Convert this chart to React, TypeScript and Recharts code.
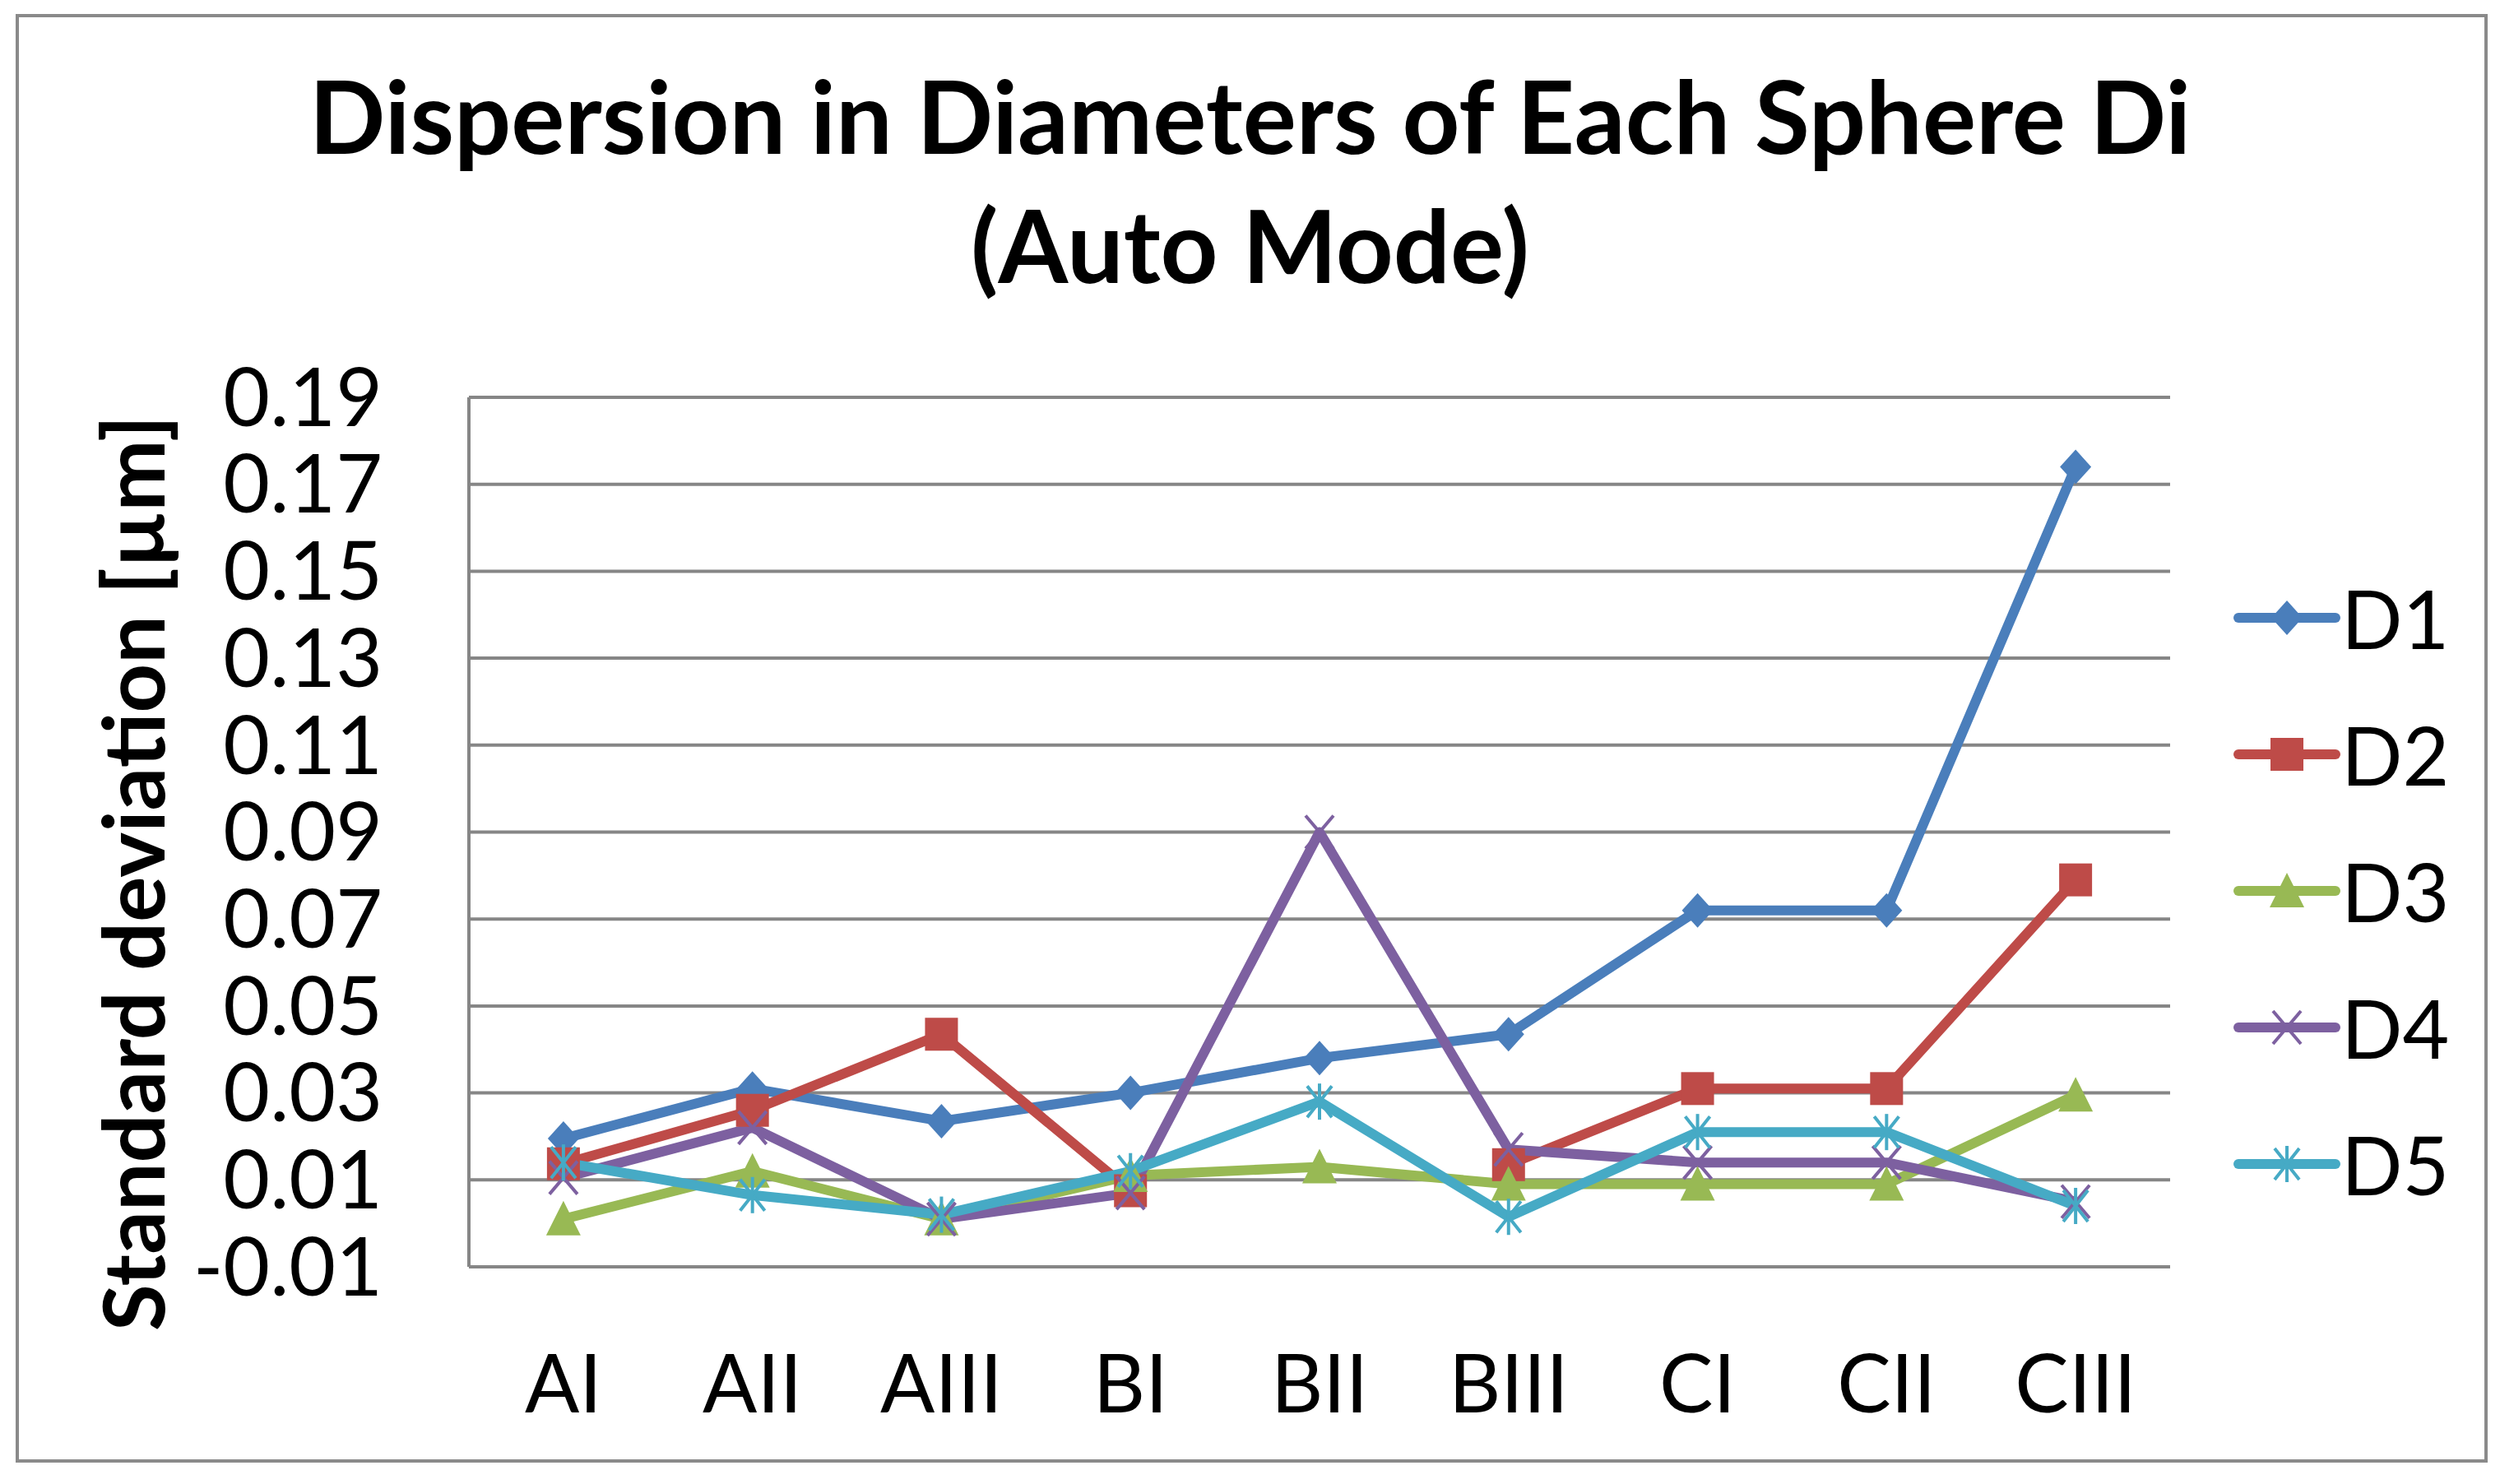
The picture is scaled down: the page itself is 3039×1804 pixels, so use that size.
import React from 'react';
import { LineChart, Line, XAxis, YAxis, CartesianGrid, Legend } from 'recharts';

// Categorías del eje X y valores de cada serie (desviación estándar, µm)
const categories = ['AI', 'AII', 'AIII', 'BI', 'BII', 'BIII', 'CI', 'CII', 'CIII'];
const d1 = [0.0195, 0.031, 0.0235, 0.030, 0.038, 0.0435, 0.072, 0.072, 0.174];
const d2 = [0.0137, 0.026, 0.0435, 0.0075, null, 0.0135, 0.031, 0.031, 0.079];
const d3 = [0.001, 0.012, 0.001, 0.011, 0.013, 0.009, 0.009, 0.009, 0.0295];
const d4 = [0.0105, 0.022, 0.001, 0.007, 0.09, 0.017, 0.014, 0.014, 0.005];
const d5 = [0.014, 0.0065, 0.002, 0.012, 0.028, 0.0015, 0.021, 0.021, 0.004];
const yTicks = [-0.01, 0.01, 0.03, 0.05, 0.07, 0.09, 0.11, 0.13, 0.15, 0.17, 0.19];

const seriesKeys = ['D1', 'D2', 'D3', 'D4', 'D5'];
const seriesValues = [d1, d2, d3, d4, d5];
const seriesColors = ['#4A7EBB', '#BE4B48', '#98B954', '#7D60A0', '#46AAC5'];
const seriesShapes = ['diamond', 'square', 'triangle', 'cross', 'star'];

const chartData = categories.map((name, i) => {
  const row: Record<string, any> = { name };
  seriesKeys.forEach((k, j) => {
    row[k] = seriesValues[j][i];
  });
  return row;
});

const FONT = 'Lato, "Open Sans", sans-serif';
const W = 3039;
const H = 1804;
const PLOT_LEFT = 570;
const PLOT_RIGHT = 2638;
const PLOT_TOP = 483;
const PLOT_BOTTOM = 1540;
const Y_AXIS_W = 500;
const X_AXIS_H = 200;
const BAND = (PLOT_RIGHT - PLOT_LEFT) / categories.length;
const LINE_W = 12;

// Marcadores estilo Excel
const Marker = ({ shape, cx, cy, color }: any) => {
  switch (shape) {
    case 'diamond':
      return <polygon points={`${cx},${cy - 21} ${cx + 19},${cy} ${cx},${cy + 21} ${cx - 19},${cy}`} fill={color} />;
    case 'square':
      return <rect x={cx - 20} y={cy - 20} width={40} height={40} fill={color} />;
    case 'triangle':
      return <polygon points={`${cx},${cy - 22} ${cx + 21},${cy + 20} ${cx - 21},${cy + 20}`} fill={color} />;
    case 'cross':
      return (
        <g stroke={color} strokeWidth={4}>
          <line x1={cx - 17} y1={cy - 20} x2={cx + 17} y2={cy + 20} />
          <line x1={cx - 17} y1={cy + 20} x2={cx + 17} y2={cy - 20} />
        </g>
      );
    case 'star':
      return (
        <g stroke={color} strokeWidth={4}>
          <line x1={cx - 15} y1={cy - 19} x2={cx + 15} y2={cy + 19} />
          <line x1={cx - 15} y1={cy + 19} x2={cx + 15} y2={cy - 19} />
          <line x1={cx} y1={cy - 22} x2={cx} y2={cy + 22} />
        </g>
      );
    default:
      return null;
  }
};

const makeDot = (shape: string, color: string) => (props: any) => {
  const { cx, cy, index, value } = props;
  if (cx == null || cy == null || value == null) return <g key={`e-${index}`} />;
  return (
    <g key={`m-${index}`}>
      <Marker shape={shape} cx={cx} cy={cy} color={color} />
    </g>
  );
};

const renderLegend = () => (
  <div>
    {seriesKeys.map((k, i) => (
      <div key={k} style={{ display: 'flex', alignItems: 'center', height: 166 }}>
        <svg width={130} height={60}>
          <line x1={6} y1={30} x2={124} y2={30} stroke={seriesColors[i]} strokeWidth={LINE_W} strokeLinecap="round" />
          <Marker shape={seriesShapes[i]} cx={65} cy={30} color={seriesColors[i]} />
        </svg>
        <span style={{ fontFamily: FONT, fontSize: 98, lineHeight: 1, marginLeft: 1, color: '#000' }}>{k}</span>
      </div>
    ))}
  </div>
);

const YLabel = ({ viewBox }: any) => {
  const cy = viewBox.y + viewBox.height / 2 + 50;
  const x = 200;
  return (
    <text
      x={x}
      y={cy}
      transform={`rotate(-90, ${x}, ${cy})`}
      textAnchor="middle"
      fontFamily={FONT}
      fontWeight={700}
      fontSize={104}
      fill="#000"
    >
      Standard deviation [µm]
    </text>
  );
};

const App = () => {
  return (
    <div style={{ position: 'absolute', left: 0, top: 0, width: W, height: H, background: '#fff', overflow: 'hidden' }}>
      <div
        style={{
          position: 'absolute',
          left: 19,
          top: 17,
          width: 3005,
          height: 1761,
          border: '4px solid #8a8a8a',
          boxSizing: 'border-box',
        }}
      />
      <div
        style={{
          position: 'absolute',
          left: 0,
          top: 62,
          width: W,
          textAlign: 'center',
          fontFamily: FONT,
          fontWeight: 700,
          fontSize: 122,
          lineHeight: '157px',
          color: '#000',
        }}
      >
        <div>Dispersion in Diameters of Each Sphere Di</div>
        <div>(Auto Mode)</div>
      </div>
      <LineChart
        width={W}
        height={H}
        data={chartData}
        margin={{
          top: PLOT_TOP,
          right: W - PLOT_RIGHT,
          bottom: H - PLOT_BOTTOM - X_AXIS_H,
          left: PLOT_LEFT - Y_AXIS_W,
        }}
        style={{ position: 'absolute', left: 0, top: 0, fontFamily: FONT }}
      >
        <CartesianGrid vertical={false} stroke="#868686" strokeWidth={4} />
        <XAxis
          dataKey="name"
          height={X_AXIS_H}
          padding={{ left: BAND / 2, right: BAND / 2 }}
          tickLine={false}
          tickSize={0}
          tickMargin={107}
          axisLine={{ stroke: '#868686', strokeWidth: 4 }}
          tick={{ fontSize: 98, fill: '#000', fontFamily: FONT }}
          interval={0}
        />
        <YAxis
          width={Y_AXIS_W}
          domain={[-0.01, 0.19]}
          ticks={yTicks}
          tickFormatter={(v: number) => v.toFixed(2)}
          tickLine={false}
          tickSize={0}
          tickMargin={105}
          axisLine={{ stroke: '#868686', strokeWidth: 4 }}
          tick={{ fontSize: 98, fill: '#000', fontFamily: FONT }}
          interval={0}
          label={<YLabel />}
        />
        <Legend
          layout="horizontal"
          verticalAlign="middle"
          align="center"
          content={renderLegend}
          wrapperStyle={{ left: 2715, top: 668, width: 320 }}
        />
        {seriesKeys.map((k, i) => (
          <Line
            key={k}
            type="linear"
            dataKey={k}
            stroke={seriesColors[i]}
            strokeWidth={LINE_W}
            strokeLinejoin="round"
            dot={makeDot(seriesShapes[i], seriesColors[i])}
            activeDot={false}
            isAnimationActive={false}
          />
        ))}
      </LineChart>
    </div>
  );
};

export default App;
